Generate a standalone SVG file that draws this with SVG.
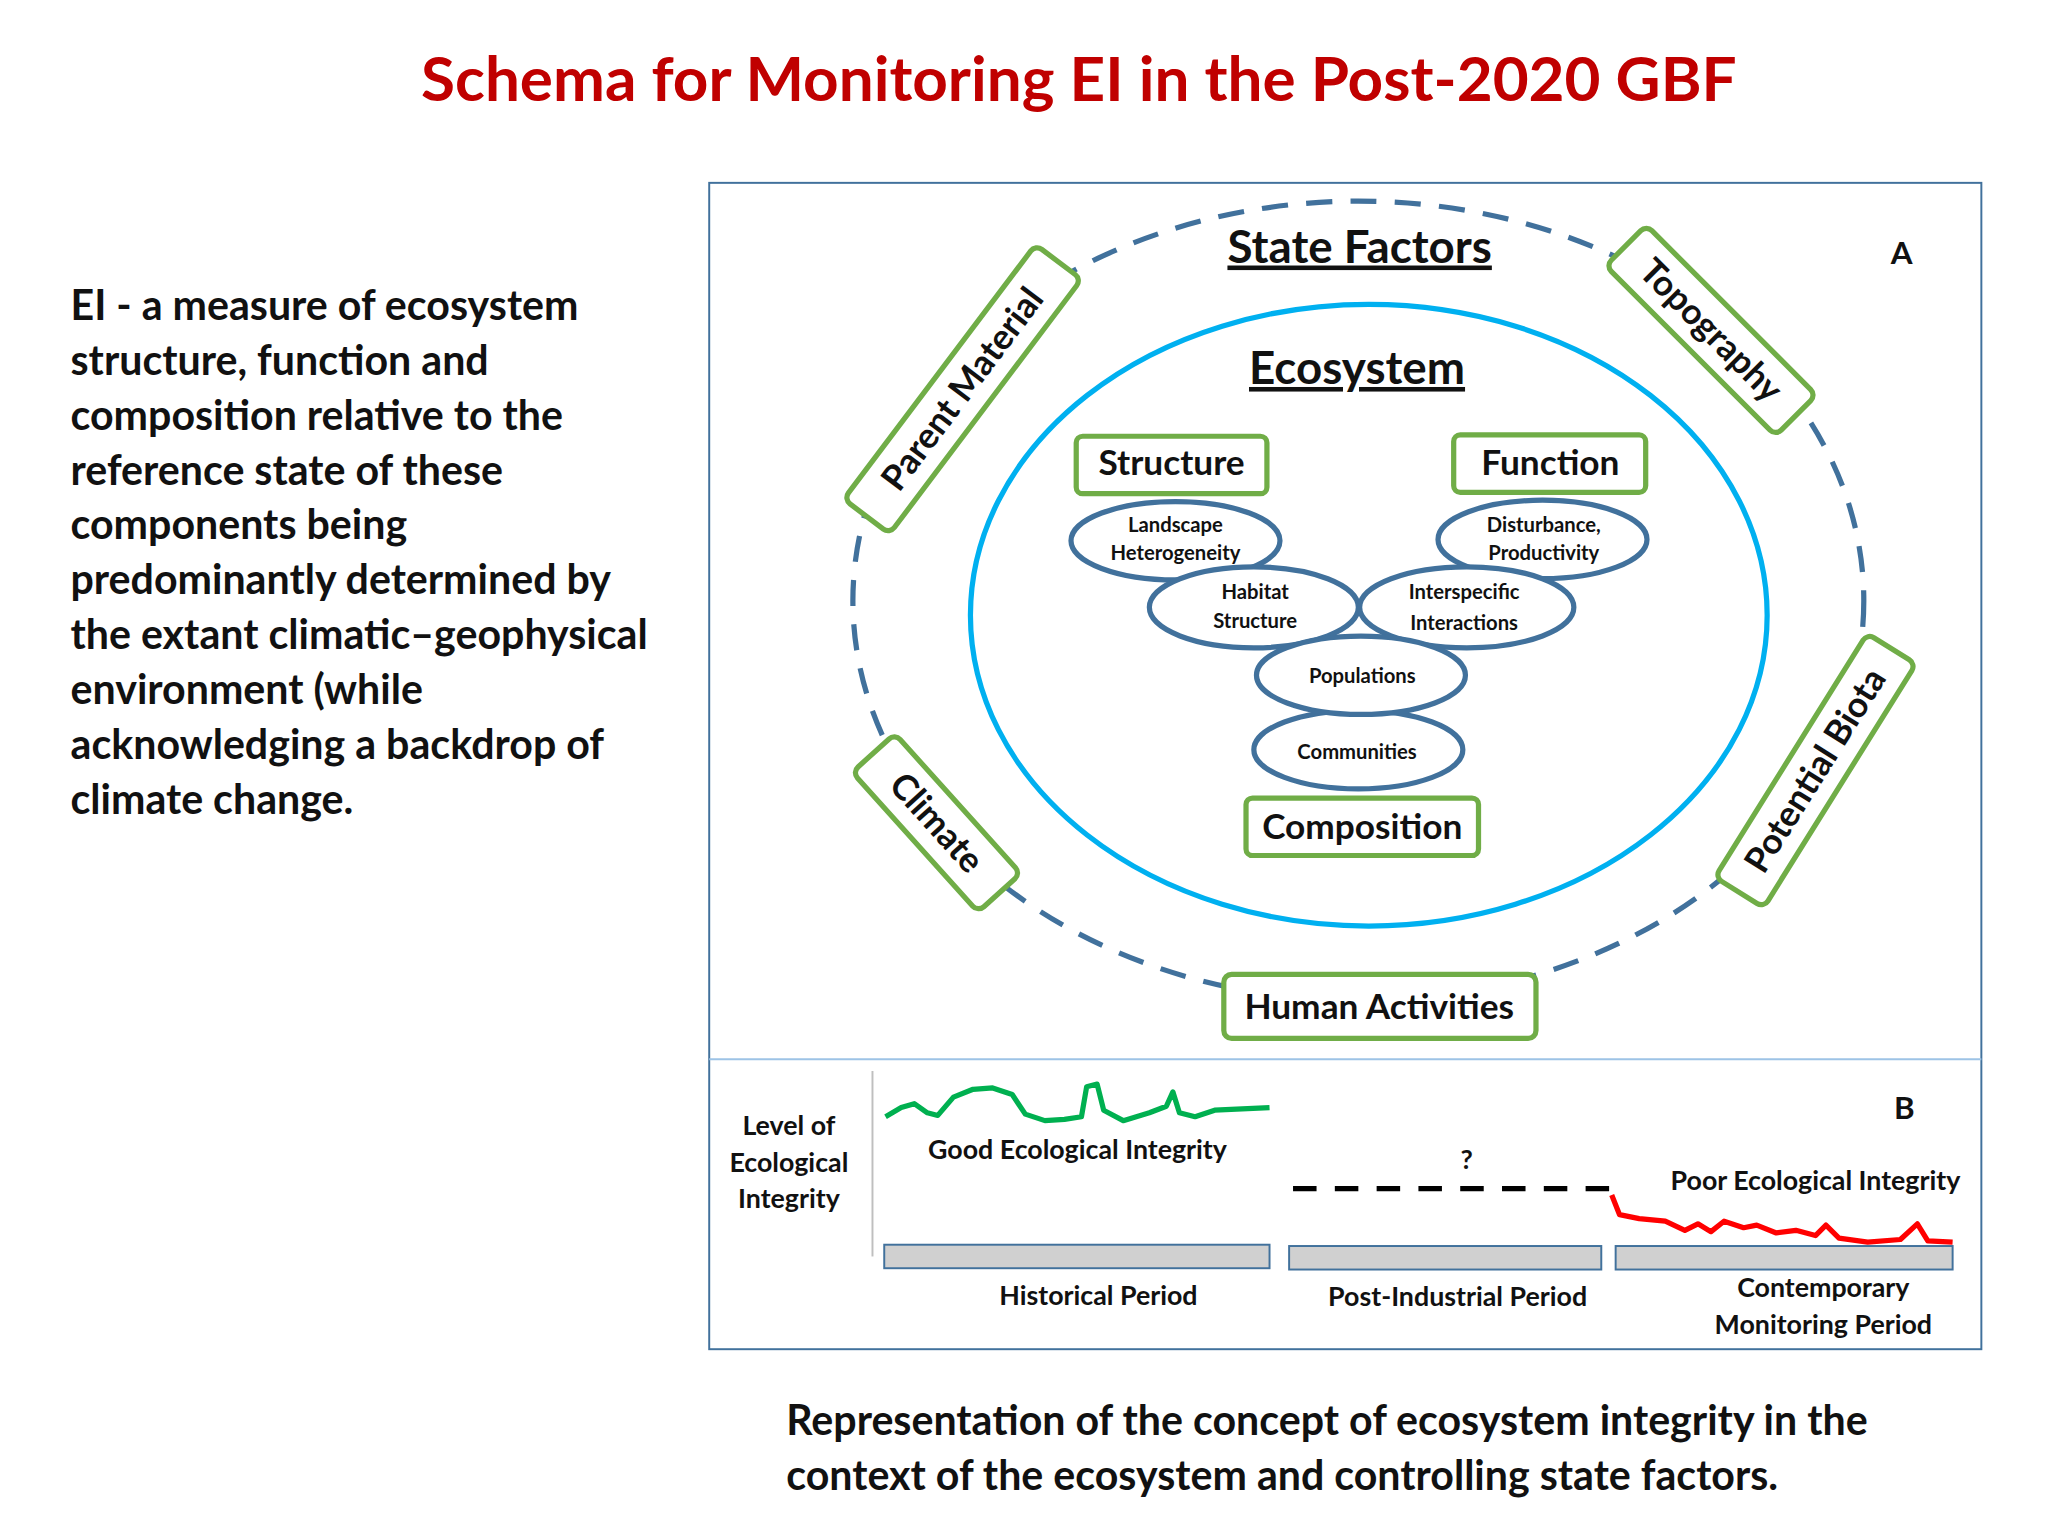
<svg xmlns="http://www.w3.org/2000/svg" width="2048" height="1536" viewBox="0 0 2048 1536">
<style>
text{font-family:Lato,"Open Sans",sans-serif;font-weight:bold;fill:#111}
.c{text-anchor:middle}
.gb{fill:#fff;stroke:#70ad47;stroke-width:4}
.el{fill:#fff;stroke:#41719c;stroke-width:4}
.lb{font-size:27px}
.sm{font-size:15.5px}
.b{font-size:20.5px}
</style>
<rect width="2048" height="1536" fill="#fff"/>
<g transform="scale(1.3061)">
<text x="826" y="77" class="c" style="font-size:47.5px;fill:#c00000">Schema for Monitoring EI in the Post-2020 GBF</text>
<g id="left-text" style="font-size:31.5px">
<text x="54" y="245">EI - a measure of ecosystem</text>
<text x="54" y="287">structure, function and</text>
<text x="54" y="329">composition relative to the</text>
<text x="54" y="371">reference state of these</text>
<text x="54" y="413">components being</text>
<text x="54" y="455">predominantly determined by</text>
<text x="54" y="497">the extant climatic–geophysical</text>
<text x="54" y="539">environment (while</text>
<text x="54" y="581">acknowledging a backdrop of</text>
<text x="54" y="623">climate change.</text>
</g>
<rect x="543" y="140" width="974" height="893" fill="none" stroke="#41719c" stroke-width="1.5"/>
<line x1="543" y1="811" x2="1517" y2="811" stroke="#9dc3e6" stroke-width="1.5"/>
<g id="connectors">
<ellipse cx="1040" cy="460" rx="387" ry="306" fill="none" stroke="#41719c" stroke-width="4" stroke-dasharray="20,14"/>
<ellipse cx="1048" cy="471" rx="305" ry="238" fill="none" stroke="#00b0f0" stroke-width="4"/>
</g>
<text x="1041" y="201" class="c" style="font-size:35px;text-decoration:underline">State Factors</text>
<text x="1039" y="294" class="c" style="font-size:35px;text-decoration:underline">Ecosystem</text>
<text x="1456" y="202" class="c" style="font-size:24px">A</text>
<g id="parent-material" transform="translate(737,298) rotate(-53)"><rect x="-122" y="-22" width="244" height="44" rx="6" class="gb"/><text y="9" class="c lb">Parent Material</text></g>
<g id="topography" transform="translate(1310,253) rotate(45)"><rect x="-92" y="-22" width="184" height="44" rx="6" class="gb"/><text y="9" class="c lb">Topography</text></g>
<g id="climate" transform="translate(717,630) rotate(48)"><rect x="-72" y="-22" width="144" height="44" rx="6" class="gb"/><text y="9" class="c lb">Climate</text></g>
<g id="potential-biota" transform="translate(1390,590) rotate(-58)"><rect x="-110" y="-22" width="220" height="44" rx="6" class="gb"/><text y="9" class="c lb">Potential Biota</text></g>
<g id="human-activities"><rect x="937" y="746" width="239" height="49" rx="6" class="gb"/><text x="1056" y="780" class="c lb">Human Activities</text></g>
<g id="structure"><rect x="824" y="334" width="146" height="44" rx="5" class="gb"/><text x="897" y="364" class="c lb">Structure</text></g>
<g id="function"><rect x="1113" y="333" width="147" height="44" rx="5" class="gb"/><text x="1187" y="364" class="c lb">Function</text></g>
<g id="composition"><rect x="954" y="611" width="178" height="44" rx="5" class="gb"/><text x="1043" y="642" class="c lb">Composition</text></g>
<g id="landscape"><ellipse cx="900" cy="414" rx="80" ry="30" class="el"/><text x="900" y="407" class="c sm">Landscape</text><text x="900" y="429" class="c sm">Heterogeneity</text></g>
<g id="disturbance"><ellipse cx="1181" cy="413" rx="80" ry="30" class="el"/><text x="1182" y="407" class="c sm">Disturbance,</text><text x="1182" y="429" class="c sm">Productivity</text></g>
<g id="habitat"><ellipse cx="960" cy="465" rx="80" ry="31" class="el"/><text x="961" y="459" class="c sm">Habitat</text><text x="961" y="481" class="c sm">Structure</text></g>
<g id="interspecific"><ellipse cx="1123" cy="465" rx="82" ry="31" class="el"/><text x="1121" y="459" class="c sm">Interspecific</text><text x="1121" y="482" class="c sm">Interactions</text></g>
<g id="communities"><ellipse cx="1040" cy="574" rx="80" ry="30" class="el"/><text x="1039" y="581" class="c sm">Communities</text></g>
<g id="populations"><ellipse cx="1042" cy="517" rx="80" ry="30" class="el"/><text x="1043" y="523" class="c sm">Populations</text></g>
<g id="panel-b">
<line x1="668" y1="820" x2="668" y2="962" stroke="#bfbfbf" stroke-width="1.5"/>
<rect x="677" y="953" width="295" height="18" fill="#d0d0d0" stroke="#41719c" stroke-width="1.5"/>
<rect x="987" y="954" width="239" height="18" fill="#d0d0d0" stroke="#41719c" stroke-width="1.5"/>
<rect x="1237" y="954" width="258" height="18" fill="#d0d0d0" stroke="#41719c" stroke-width="1.5"/>
<text x="604" y="869" class="c b">Level of</text><text x="604" y="897" class="c b">Ecological</text><text x="604" y="925" class="c b">Integrity</text>
<text x="825" y="887" class="c b">Good Ecological Integrity</text>
<text x="1123" y="895" class="c b">?</text>
<text x="1390" y="911" class="c b">Poor Ecological Integrity</text>
<text x="1458" y="857" class="c" style="font-size:24px">B</text>
<text x="841" y="999" class="c b">Historical Period</text>
<text x="1116" y="1000" class="c b">Post-Industrial Period</text>
<text x="1396" y="993" class="c b">Contemporary</text><text x="1396" y="1021" class="c b">Monitoring Period</text>
<line x1="990" y1="910" x2="1232" y2="910" stroke="#000" stroke-width="4" stroke-dasharray="18,14"/>
<polyline fill="none" stroke="#00b050" stroke-width="4" stroke-linejoin="round" points="678,855 690,848 700,845 710,852 718,854 730,840 745,834 760,833 775,838 785,853 800,858 815,857 828,855 832,832 840,830 845,850 860,858 880,852 893,847 898,836 903,852 915,855 930,850 972,848"/>
<polyline fill="none" stroke="#ff0000" stroke-width="4" stroke-linejoin="round" points="1234,915 1240,930 1255,933 1275,935 1290,942 1300,937 1310,943 1320,935 1335,940 1345,938 1360,944 1375,942 1390,946 1398,938 1408,948 1430,951 1455,949 1468,937 1476,950 1495,951"/>
</g>
<text x="602" y="1099" style="font-size:31.5px">Representation of the concept of ecosystem integrity in the</text>
<text x="602" y="1141" style="font-size:31.5px">context of the ecosystem and controlling state factors.</text>
</g>
</svg>
